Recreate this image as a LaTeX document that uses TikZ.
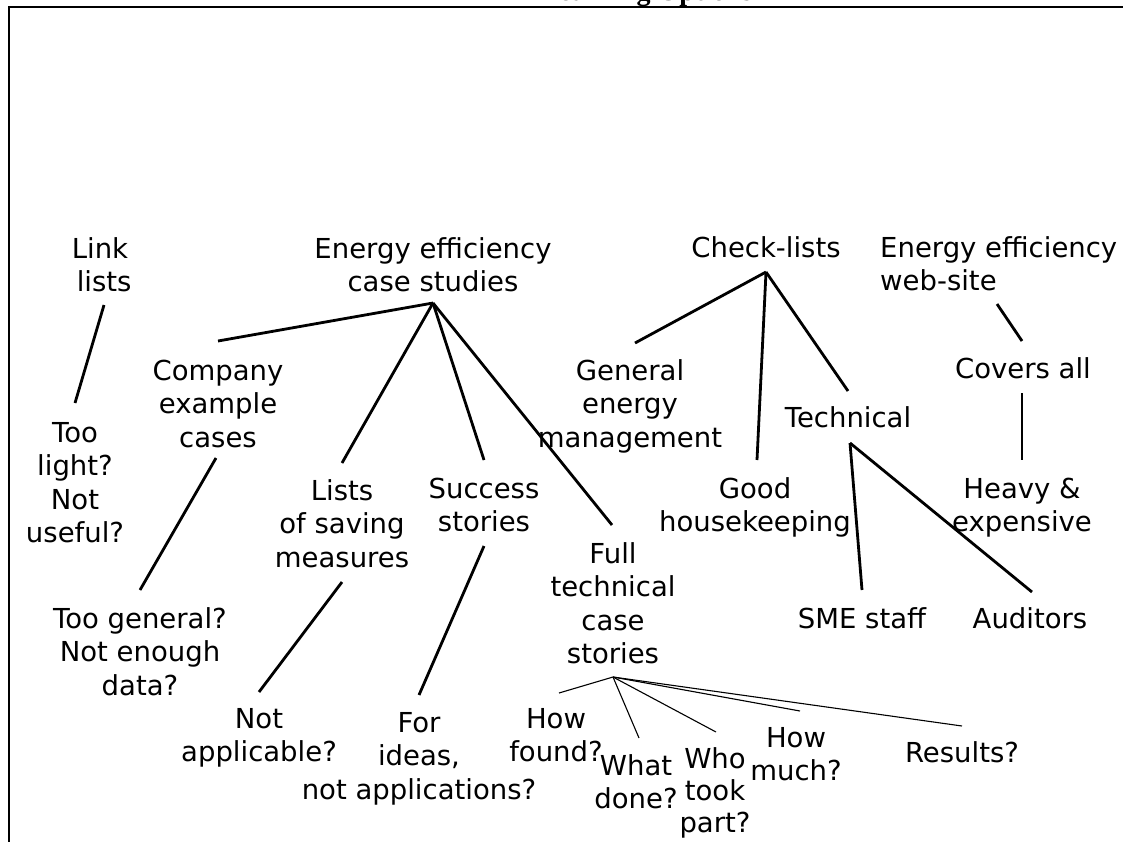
\documentclass[tikz,border=0pt]{standalone}
\usepackage{fontspec}
\setmainfont{DejaVu Sans}
\newfontfamily\titlefont{Liberation Serif}
% multi-line labels whose baseline is the first line's baseline
\newcommand{\cstack}[1]{\begin{tabular}[t]{@{}c@{}}#1\end{tabular}}
\newcommand{\lstack}[1]{\begin{tabular}[t]{@{}l@{}}#1\end{tabular}}
\begin{document}
\begin{tikzpicture}[x=1pt,y=-1pt,
  lbl/.style={anchor=base, inner sep=0pt, font=\fontsize{27.5}{33.5}\selectfont},
  lbll/.style={lbl, anchor=base west},
  heavyline/.style={line width=2.8pt},
  thinline/.style={line width=1.1pt},
  frameline/.style={line width=2.2pt}]
\useasboundingbox (0,0) rectangle (1123,841);

% frame and heading running off the top edge
\coordinate (frTL) at (9,7);
\coordinate (frTR) at (1130,7);
\coordinate (frBL) at (9,850);
\draw[frameline] (frTR) -- (frTL) -- (frBL);
\node[anchor=base west, inner sep=0pt, font=\titlefont\bfseries\fontsize{28}{32}\selectfont] (title) at (540,0) {Learning Options};

% labels
\node[lbl] (link) at (100,258) {\cstack{Link\\\hspace*{0.3em}lists}};
\node[lbl] (ee) at (433,258) {\cstack{Energy efficiency\\case studies}};
\node[lbl] (company) at (218,380) {\cstack{Company\\example\\cases}};
\node[lbl] (toolight) at (75,442) {\cstack{Too\\light?\\Not\\useful?}};
\node[lbl] (lists) at (342,500) {\cstack{Lists\\of saving\\measures}};
\node[lbl] (success) at (484,498) {\cstack{Success\\stories}};
\node[lbl] (full) at (613,563) {\cstack{Full\\technical\\case\\stories}};
\node[lbl] (toogeneral) at (140,628) {\cstack{Too general?\\Not enough\\data?}};
\node[lbl] (notapp) at (259,728) {\cstack{Not\\applicable?}};
\node[lbl] (forideas) at (419,732) {\cstack{For\\ideas,\\not applications?}};
\node[lbl] (howfound) at (556,728) {\cstack{How\\found?}};
\node[lbl] (whatdone) at (636,775) {\cstack{What\\done?}};
\node[lbl, font=\fontsize{27.5}{32}\selectfont] (whotook) at (715,768) {\cstack{Who\\took\\part?}};
\node[lbl] (howmuch) at (796,747) {\cstack{How\\much?}};
\node[lbl] (results) at (962,762) {Results?};
\node[lbl] (checklists) at (766,257) {Check-lists};
\node[lbl] (general) at (630,380) {\cstack{General\\energy\\management}};
\node[lbl] (technical) at (848,427) {Technical};
\node[lbl] (good) at (755,498) {\cstack{Good\\housekeeping}};
\node[lbll] (eeweb) at (880,257) {\lstack{Energy efficiency\\web-site}};
\node[lbl] (covers) at (1023,378) {Covers all};
\node[lbl] (heavy) at (1022,498) {\cstack{Heavy \&\\expensive}};
\node[lbl] (sme) at (862,628) {SME staff};
\node[lbl] (auditors) at (1030,628) {Auditors};

% connector end points
\coordinate (eeHub) at (433,303);
\coordinate (coA) at (218,341);
\coordinate (lsA) at (342,463);
\coordinate (suA) at (484,460);
\coordinate (fuA) at (612,525);
\coordinate (lkA) at (104,305);
\coordinate (lkB) at (75,403);
\coordinate (coB) at (216,458);
\coordinate (coC) at (140,590);
\coordinate (lsB) at (342,582);
\coordinate (lsC) at (259,692);
\coordinate (suB) at (484,546);
\coordinate (suC) at (419,695);
\coordinate (clHub) at (766,272);
\coordinate (geA) at (635,343);
\coordinate (goA) at (757,460);
\coordinate (teA) at (848,391);
\coordinate (teHub) at (850,443);
\coordinate (smA) at (862,590);
\coordinate (auA) at (1032,592);
\coordinate (ewA) at (997,304);
\coordinate (ewB) at (1022,341);
\coordinate (cvA) at (1022,393);
\coordinate (cvB) at (1022,460);
\coordinate (fuHub) at (613,677);
\coordinate (hfA) at (559,693);
\coordinate (wdA) at (639,738);
\coordinate (wtA) at (716,732);
\coordinate (hmA) at (800,711);
\coordinate (reA) at (962,726);

% case-study branch
\draw[heavyline] (eeHub) -- (coA);
\draw[heavyline] (eeHub) -- (lsA);
\draw[heavyline] (eeHub) -- (suA);
\draw[heavyline] (eeHub) -- (fuA);
\draw[heavyline] (lkA) -- (lkB);
\draw[heavyline] (coB) -- (coC);
\draw[heavyline] (lsB) -- (lsC);
\draw[heavyline] (suB) -- (suC);

% check-list branch
\draw[heavyline] (clHub) -- (geA);
\draw[heavyline] (clHub) -- (goA);
\draw[heavyline] (clHub) -- (teA);
\draw[heavyline] (teHub) -- (smA);
\draw[heavyline] (teHub) -- (auA);

% web-site branch
\draw[heavyline] (ewA) -- (ewB);
\draw[heavyline] (cvA) -- (cvB);

% questions about full case stories
\draw[thinline] (fuHub) -- (hfA);
\draw[thinline] (fuHub) -- (wdA);
\draw[thinline] (fuHub) -- (wtA);
\draw[thinline] (fuHub) -- (hmA);
\draw[thinline] (fuHub) -- (reA);
\end{tikzpicture}
\end{document}
